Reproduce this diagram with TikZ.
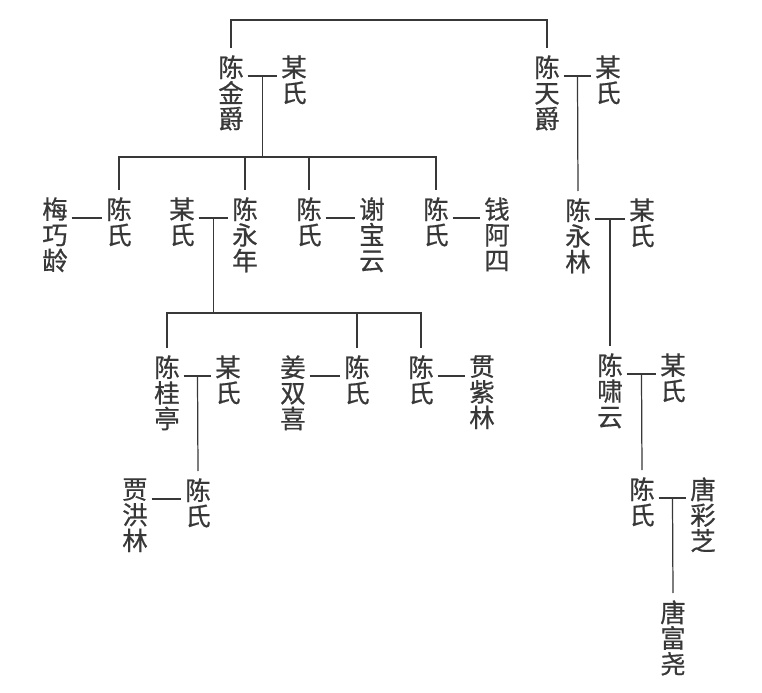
\documentclass[tikz,border=0pt]{standalone}
\usepackage{fontspec}
\newfontfamily\cjk[FakeBold=0.6]{Noto Sans CJK SC}
\usetikzlibrary{calc}
\definecolor{ink}{HTML}{383838}
\newcommand\wed[3]{\draw[link] ([yshift=-0.56cm]#1.north east) -- coordinate[midway] (#3) ([yshift=-0.56cm]#2.north west);}

\begin{document}
\begin{tikzpicture}[x=0.02cm,y=-0.02cm,
	person/.style={anchor=north,inner xsep=2pt,inner ysep=4pt,align=center,text=ink,font=\cjk\fontsize{14.5}{14.6}\selectfont},
	link/.style={draw=ink,line width=0.7pt}]
	\useasboundingbox (0,0) rectangle (762,693);
	% first generation
	\node[person] (jinjue) at (231,48) {陈\\金\\爵};
	\node[person] (jinjueW) at (294,48) {某\\氏};
	\node[person] (tianjue) at (547,48) {陈\\天\\爵};
	\node[person] (tianjueW) at (608,48) {某\\氏};
	% second generation
	\node[person] (meiqiaoling) at (55,190) {梅\\巧\\龄};
	\node[person] (chenshiA) at (119,190) {陈\\氏};
	\node[person] (yongnianW) at (182,190) {某\\氏};
	\node[person] (yongnian) at (245,190) {陈\\永\\年};
	\node[person] (chenshiB) at (309,190) {陈\\氏};
	\node[person] (xiebaoyun) at (372,190) {谢\\宝\\云};
	\node[person] (chenshiC) at (436,190) {陈\\氏};
	\node[person] (qianasi) at (497,190) {钱\\阿\\四};
	\node[person] (yonglin) at (578,191) {陈\\永\\林};
	\node[person] (yonglinW) at (642,191) {某\\氏};
	% third generation
	\node[person] (guiting) at (167,348) {陈\\桂\\亭};
	\node[person] (guitingW) at (228,348) {某\\氏};
	\node[person] (jiangshuangxi) at (293,348) {姜\\双\\喜};
	\node[person] (chenshiD) at (357,348) {陈\\氏};
	\node[person] (chenshiE) at (421,348) {陈\\氏};
	\node[person] (jiazilin) at (482,348) {贯\\紫\\林};
	\node[person] (xiaoyun) at (610,346) {陈\\啸\\云};
	\node[person] (xiaoyunW) at (673,346) {某\\氏};
	% fourth and fifth generation
	\node[person] (jiahonglin) at (135,471) {贾\\洪\\林};
	\node[person] (chenshiF) at (198,471) {陈\\氏};
	\node[person] (chenshiG) at (642,470) {陈\\氏};
	\node[person] (tangcaizhi) at (703,470) {唐\\彩\\芝};
	\node[person] (tangfuyao) at (673,593) {唐\\富\\尧};

	% marriages
	\wed{jinjue}{jinjueW}{mA}
	\wed{tianjue}{tianjueW}{mB}
	\wed{meiqiaoling}{chenshiA}{mC}
	\wed{yongnianW}{yongnian}{mD}
	\wed{chenshiB}{xiebaoyun}{mE}
	\wed{chenshiC}{qianasi}{mF}
	\wed{yonglin}{yonglinW}{mG}
	\wed{guiting}{guitingW}{mH}
	\wed{jiangshuangxi}{chenshiD}{mI}
	\wed{chenshiE}{jiazilin}{mJ}
	\wed{xiaoyun}{xiaoyunW}{mK}
	\wed{jiahonglin}{chenshiF}{mL}
	\wed{chenshiG}{tangcaizhi}{mM}

	% descent
	\coordinate (top) at (0,20);
	\coordinate (barA) at (0,157);
	\coordinate (barB) at (0,313);
	\draw[link] (jinjue.north) |- (top -| tianjue.north) -- (tianjue.north);
	\draw[link] (mA) -- (mA |- barA);
	\draw[link] (chenshiA.north) |- (barA -| chenshiC.north) -- (chenshiC.north);
	\draw[link] (yongnian.north) -- (yongnian.north |- barA);
	\draw[link] (chenshiB.north) -- (chenshiB.north |- barA);
	\draw[link] (mD) -- (mD |- barB);
	\draw[link] (guiting.north) |- (barB -| chenshiE.north) -- (chenshiE.north);
	\draw[link] (chenshiD.north) -- (chenshiD.north |- barB);
	\draw[link] (mH) -- (chenshiF.north);
	\draw[link] (mB) -- (yonglin.north);
	\draw[link] (mG) -- (xiaoyun.north);
	\draw[link] (mK) -- (chenshiG.north);
	\draw[link] (mM) -- (tangfuyao.north);
\end{tikzpicture}
\end{document}
